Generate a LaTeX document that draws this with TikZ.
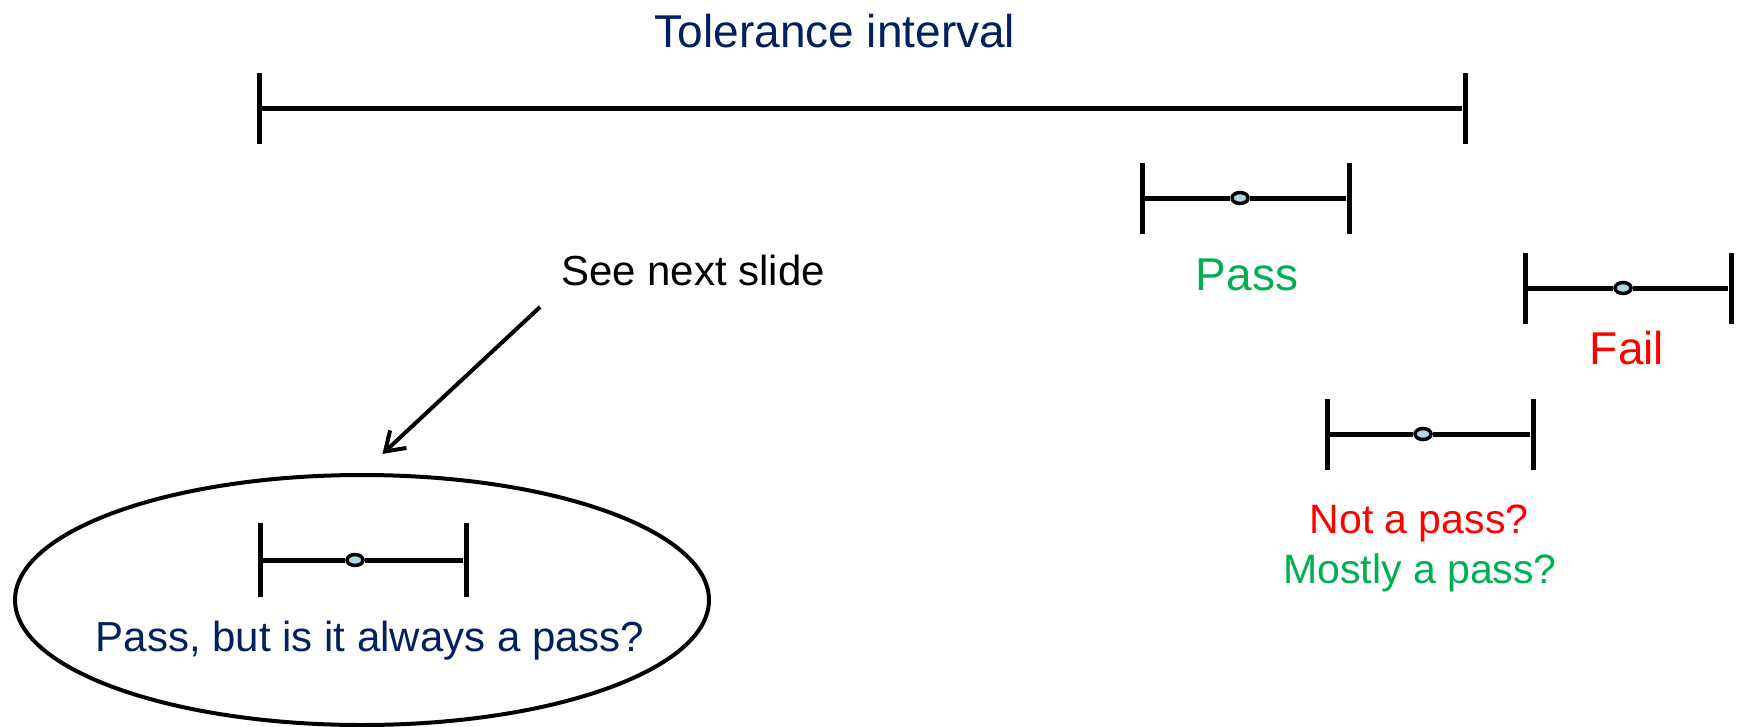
\documentclass[tikz,border=0pt]{standalone}
\usepackage{fontspec}
\setmainfont{Liberation Sans}
\usepackage{tikz}
\usetikzlibrary{arrows.meta,shapes.geometric}
\definecolor{navy}{HTML}{002060}
\definecolor{okgreen}{HTML}{00B050}
\definecolor{dotfill}{RGB}{175,215,225}
\tikzstyle{endcap}=[rectangle,fill=black,inner sep=0pt,minimum width=5pt,minimum height=71pt]
\tikzstyle{bar}=[draw,line width=5pt]
\tikzstyle{meanpt}=[ellipse,draw=black,line width=3.5pt,fill=dotfill,inner sep=0pt,
                minimum width=16pt,minimum height=11pt]
\tikzstyle{big}=[anchor=base,inner sep=0pt,font=\fontsize{46}{52}\selectfont]
\tikzstyle{small}=[anchor=base,inner sep=0pt,font=\fontsize{41}{48}\selectfont]
\tikzstyle{pointer}=[line width=4pt,-{Straight Barb[length=18pt,width=24pt,line width=4pt]}]

\begin{document}
\begin{tikzpicture}[x=1pt,y=-1pt]
\useasboundingbox (0,0) rectangle (1743,726);
% tolerance interval
\node [big,text=navy] (toltext) at (835,47) {Tolerance interval};
\node [endcap] (tolL) at (259,108.5) {};
\node [endcap] (tolR) at (1465,108.5) {};
\draw [bar] (tolL) -- (tolR);
% measured intervals
\node [endcap] (passL) at (1142,198) {};
\node [endcap] (passR) at (1349,198) {};
\node [meanpt] (passM) at (1240,198) {};
\draw [bar] (passL) -- (passM) -- (passR);
\node [big,text=okgreen] (passtext) at (1247,290) {Pass};

\node [endcap] (failL) at (1525,288) {};
\node [endcap] (failR) at (1731,288) {};
\node [meanpt] (failM) at (1623,288) {};
\draw [bar] (failL) -- (failM) -- (failR);
\node [big,text=red] (failtext) at (1627,364) {Fail};

\node [endcap] (maybeL) at (1327,434) {};
\node [endcap] (maybeR) at (1533,434) {};
\node [meanpt] (maybeM) at (1423,434) {};
\draw [bar] (maybeL) -- (maybeM) -- (maybeR);
\node [small,text=red] (nottext) at (1419,533) {Not a pass?};
\node [small,text=okgreen] (mostlytext) at (1420,583) {Mostly a pass?};

% the doubtful one
\node [ellipse,draw,line width=4pt,inner sep=0pt,minimum width=694pt,
       minimum height=250pt] (doubt) at (362,600) {};
\node [endcap,minimum height=74pt] (alwaysL) at (260,560) {};
\node [endcap,minimum height=74pt] (alwaysR) at (466,560) {};
\node [meanpt] (alwaysM) at (355,560) {};
\draw [bar] (alwaysL) -- (alwaysM) -- (alwaysR);
\node [small,font=\fontsize{42}{48}\selectfont,text=navy] (alwaystext) at (370,651)
  {Pass, but is it always a pass?};

\node [small,font=\fontsize{42}{48}\selectfont] (seenext) at (693,285) {See next slide};
\coordinate (tail) at (540,307);
\draw [pointer,shorten >=28pt] (tail) -- (doubt.north);
\end{tikzpicture}
\end{document}
